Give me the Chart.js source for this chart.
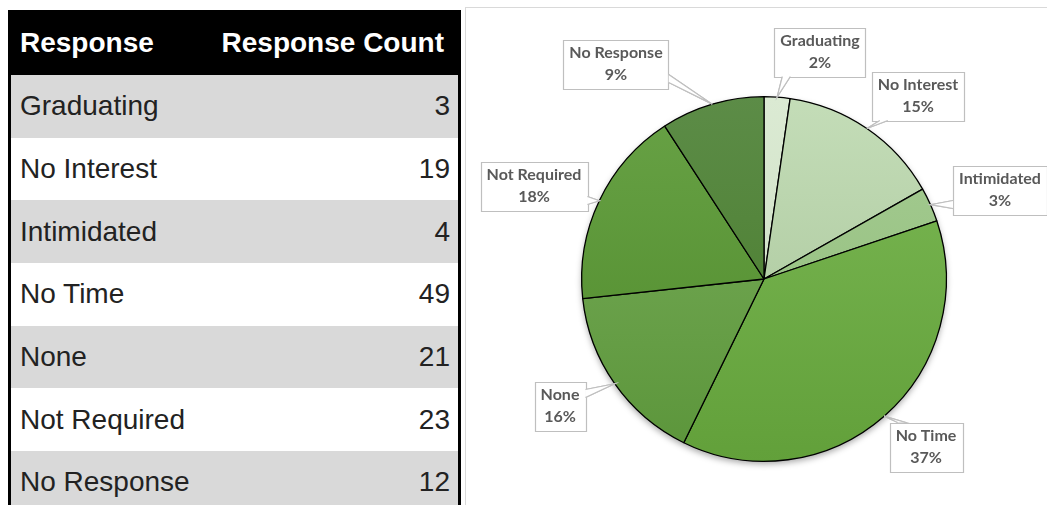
<!DOCTYPE html>
<html>
<head>
<meta charset="utf-8">
<script src="https://cdn.jsdelivr.net/npm/chart.js@4.4.0/dist/chart.umd.min.js"></script>
<style>
  html, body { margin: 0; padding: 0; background: #fff; width: 1047px; height: 505px; overflow: hidden; }
  #tbl {
    position: absolute; left: 8px; top: 10px; width: 450px;
    border-collapse: collapse; table-layout: fixed;
    font-family: "Liberation Sans", Arial, sans-serif;
  }
  #tbl th, #tbl td { padding: 0; white-space: nowrap; }
  #tbl thead tr { background: #000; color: #fff; height: 65px; }
  #tbl th { font-size: 28px; font-weight: bold; }
  #tbl tbody tr { height: 62.7px; }
  #tbl tbody tr:nth-child(odd) { background: #d9d9d9; }
  #tbl tbody tr:nth-child(even) { background: #fff; }
  #tbl td { font-size: 28px; color: #222; }
  #tbl .c1 { text-align: left; padding-left: 9px; border-left: 3px solid #000; }
  #tbl .c2 { text-align: right; padding-right: 8px; border-right: 3px solid #000; }
  #tbl th.c2 { padding-right: 14px; }
  #panel {
    position: absolute; left: 465px; top: 7px; width: 590px; height: 510px;
    border: 1px solid #d9d9d9; background: #fff;
  }
  #box { position: absolute; left: 466px; top: 8px; width: 581px; height: 497px; }
</style>
</head>
<body>
<table id="tbl">
  <colgroup><col style="width:180px"><col style="width:270px"></colgroup>
  <thead><tr><th class="c1">Response</th><th class="c2">Response Count</th></tr></thead>
  <tbody id="rows"></tbody>
</table>
<div id="panel"></div>
<div id="box"><canvas id="pie"></canvas></div>
<script>
  // data
  const responses = ["Graduating", "No Interest", "Intimidated", "No Time", "None", "Not Required", "No Response"];
  const counts = [3, 19, 4, 49, 21, 23, 12];

  // slice colours, top and bottom of the gradient
  const topColors = ["#dbead3", "#c4ddb8", "#a6cd93", "#7cb955", "#7aae5c", "#68a246", "#5c8c47"];
  const bottomColors = ["#c9dcbf", "#a5c296", "#8fba79", "#62a03a", "#5b953a", "#4f8a2a", "#477a29"];

  // callout box centres, relative to pie centre
  const labelOffsets = [[56, -227], [154, -183], [236, -89], [162, 168], [-204, 127], [-230, -93], [-148, -215]];

  // fill the table
  const tbody = document.getElementById("rows");
  responses.forEach((r, i) => {
    const tr = document.createElement("tr");
    tr.innerHTML = '<td class="c1">' + r + '</td><td class="c2">' + counts[i] + '</td>';
    tbody.appendChild(tr);
  });

  const total = counts.reduce((a, b) => a + b, 0);

  // soft shadow under the pie
  const shadowPlugin = {
    id: "shadow",
    beforeDatasetsDraw(chart) {
      const arc = chart.getDatasetMeta(0).data[0];
      if (!arc) return;
      const { x, y, outerRadius } = arc.getProps(["x", "y", "outerRadius"], true);
      const ctx = chart.ctx;
      ctx.save();
      ctx.shadowColor = "rgba(0,0,0,0.35)";
      ctx.shadowBlur = 6;
      ctx.shadowOffsetY = 3;
      ctx.beginPath();
      ctx.arc(x, y, outerRadius, 0, Math.PI * 2);
      ctx.fillStyle = "#6aa545";
      ctx.fill();
      ctx.restore();
    }
  };

  // excel-like callout labels
  const calloutPlugin = {
    id: "callouts",
    afterDatasetsDraw(chart) {
      const ctx = chart.ctx;
      const meta = chart.getDatasetMeta(0);
      ctx.save();
      ctx.font = "bold 16px Lato, 'Open Sans', sans-serif";
      ctx.textAlign = "center";
      ctx.textBaseline = "middle";
      meta.data.forEach((arc, i) => {
        const p = arc.getProps(["x", "y", "startAngle", "endAngle", "outerRadius"], true);
        const mid = (p.startAngle + p.endAngle) / 2;
        const ax = p.x + Math.cos(mid) * p.outerRadius;
        const ay = p.y + Math.sin(mid) * p.outerRadius;
        const pct = Math.round(counts[i] / total * 100) + "%";
        const w = Math.max(ctx.measureText(responses[i]).width, ctx.measureText(pct).width) + 12;
        const h = 49;
        const cx = p.x + labelOffsets[i][0], cy = p.y + labelOffsets[i][1];
        const l = cx - w / 2, r = cx + w / 2, t = cy - h / 2, b = cy + h / 2;

        // pointer base on the nearest edge
        const ox = Math.max(l - ax, ax - r, 0);
        const oy = Math.max(t - ay, ay - b, 0);
        let p1, p2;
        if (oy >= ox) {
          const ey = ay < t ? t : b;
          const bx = Math.min(Math.max(ax, l + 8), r - 14);
          p1 = [bx, ey]; p2 = [bx + 8, ey];
        } else {
          const ex = ax < l ? l : r;
          const by = Math.min(Math.max(ay, t + 8), b - 14);
          p1 = [ex, by]; p2 = [ex, by + 8];
        }
        ctx.strokeStyle = "#bfbfbf";
        ctx.lineWidth = 1.2;
        ctx.fillStyle = "#fff";
        ctx.beginPath();
        ctx.moveTo(p1[0], p1[1]); ctx.lineTo(ax, ay); ctx.lineTo(p2[0], p2[1]);
        ctx.closePath();
        ctx.fill(); ctx.stroke();
        ctx.beginPath();
        ctx.rect(Math.round(l) + 0.5, Math.round(t) + 0.5, Math.round(w), h);
        ctx.fill(); ctx.stroke();
        // open the base of the pointer
        ctx.beginPath();
        ctx.moveTo(p1[0], p1[1]); ctx.lineTo(ax, ay); ctx.lineTo(p2[0], p2[1]);
        ctx.closePath();
        ctx.fill();
        ctx.beginPath();
        ctx.moveTo(p1[0], p1[1]); ctx.lineTo(ax, ay); ctx.lineTo(p2[0], p2[1]);
        ctx.stroke();

        ctx.fillStyle = "#595959";
        ctx.fillText(responses[i], cx, cy - 11);
        ctx.fillText(pct, cx, cy + 11);
      });
      ctx.restore();
    }
  };

  const ctx = document.getElementById("pie").getContext("2d");
  new Chart(ctx, {
    type: "pie",
    data: {
      labels: responses,
      datasets: [{
        data: counts,
        backgroundColor: (c) => {
          const area = c.chart.chartArea;
          if (!area) return topColors[c.dataIndex];
          const g = c.chart.ctx.createLinearGradient(0, area.top, 0, area.bottom);
          g.addColorStop(0, topColors[c.dataIndex]);
          g.addColorStop(1, bottomColors[c.dataIndex]);
          return g;
        },
        borderColor: "#000",
        borderWidth: 1.3
      }]
    },
    options: {
      responsive: true,
      maintainAspectRatio: false,
      animation: false,
      layout: { padding: { left: 115, right: 100, top: 88, bottom: 43 } },
      plugins: {
        legend: { display: false },
        tooltip: { enabled: false }
      }
    },
    plugins: [shadowPlugin, calloutPlugin]
  });
</script>
</body>
</html>
